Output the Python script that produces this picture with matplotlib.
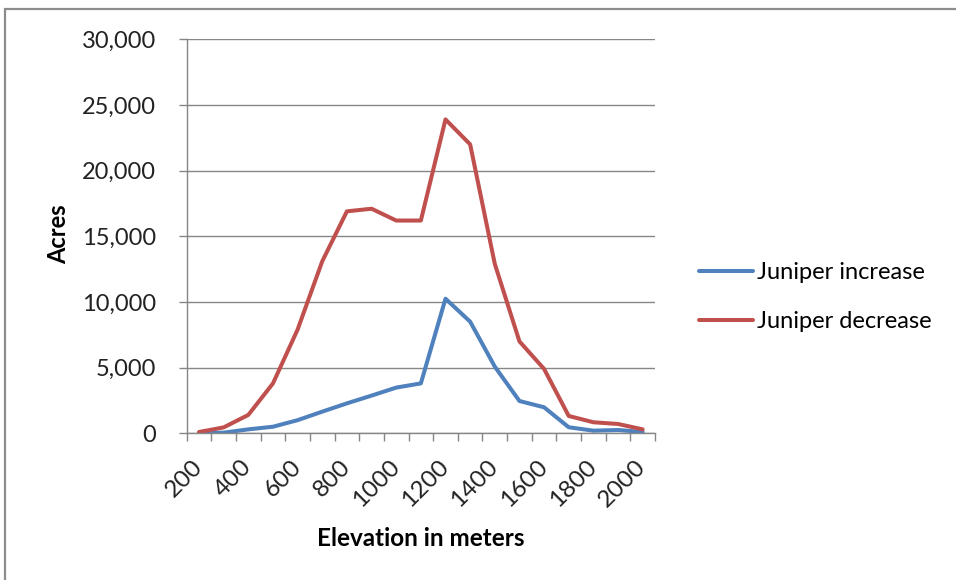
import numpy as np
import matplotlib.pyplot as plt
from matplotlib.patches import Rectangle
from matplotlib.ticker import FuncFormatter

plt.rcParams['font.family'] = ['Lato', 'DejaVu Sans']

# elevation classes (m) and acres of juniper change in each
elevation = [200, 300, 400, 500, 600, 700, 800, 900, 1000, 1100,
             1200, 1300, 1400, 1500, 1600, 1700, 1800, 1900, 2000]
juniper_increase = [20, 50, 300, 500, 1000, 1650, 2280, 2870, 3480, 3800,
                    10250, 8500, 5080, 2460, 1980, 460, 200, 250, 100]
juniper_decrease = [100, 450, 1400, 3800, 7900, 13100, 16900, 17100, 16200, 16200,
                    23900, 22000, 12900, 7000, 4900, 1320, 840, 710, 300]

blue = '#4F81BD'
red = '#C0504D'
gray = '#868686'

fig = plt.figure(figsize=(9.56, 5.80), dpi=100)
ax = fig.add_axes([186.7/956, 146.7/580, (655-186.7)/956, (433.3-39.3)/580])

x = np.arange(len(elevation))
ax.plot(x, juniper_increase, color=blue, lw=2.9, solid_capstyle='round',
        solid_joinstyle='round', label='Juniper increase')
ax.plot(x, juniper_decrease, color=red, lw=2.9, solid_capstyle='round',
        solid_joinstyle='round', label='Juniper decrease')

ax.set_xlim(-0.5, len(elevation) - 0.5)
ax.set_ylim(0, 30000)
ax.set_yticks(np.arange(0, 30001, 5000))
ax.yaxis.set_major_formatter(FuncFormatter(lambda v, p: f'{int(v):,}'))
ax.grid(axis='y', color=gray, lw=1)
ax.set_axisbelow(True)

# tick marks between categories, labels on every other category
ax.set_xticks(np.arange(-0.5, len(elevation), 1.0))
ax.set_xticklabels([])
ax.set_xticks(x[::2], [str(e) for e in elevation[::2]], minor=True)
ax.tick_params(axis='x', which='major', length=6, color=gray, width=1)
ax.tick_params(axis='x', which='minor', length=0, pad=22, labelsize=17.5,
               labelcolor='#222222')
for lab in ax.get_xticklabels(minor=True):
    lab.set_rotation(45)
    lab.set_ha('right')
    lab.set_va('center')
    lab.set_rotation_mode('anchor')
ax.tick_params(axis='y', length=6, color=gray, width=1, pad=16, labelsize=17,
               labelcolor='#222222')

for side in ['top', 'right']:
    ax.spines[side].set_visible(False)
for side in ['left', 'bottom']:
    ax.spines[side].set_color(gray)
    ax.spines[side].set_linewidth(1)

# axis titles
fig.text(59/956, 1 - 234/580, 'Acres', fontsize=17, fontweight='bold',
         rotation=90, ha='center', va='center')
fig.text(421/956, 1 - 538/580, 'Elevation in meters', fontsize=17.5,
         fontweight='bold', ha='center', va='center')

fig.legend(loc='center left', bbox_to_anchor=(699/956, 1 - 297/580),
           frameon=False, fontsize=17, handlelength=2.3,
           handletextpad=0.15, labelspacing=1.2, borderpad=0,
           borderaxespad=0)

# chart frame
fig.patches.append(Rectangle((5/956, -0.05), 1.1, 1.05 - 8.5/580,
                             transform=fig.transFigure, fill=False,
                             edgecolor='#8c8c8c', lw=1.6))

fig.savefig('out.png', dpi=100)
